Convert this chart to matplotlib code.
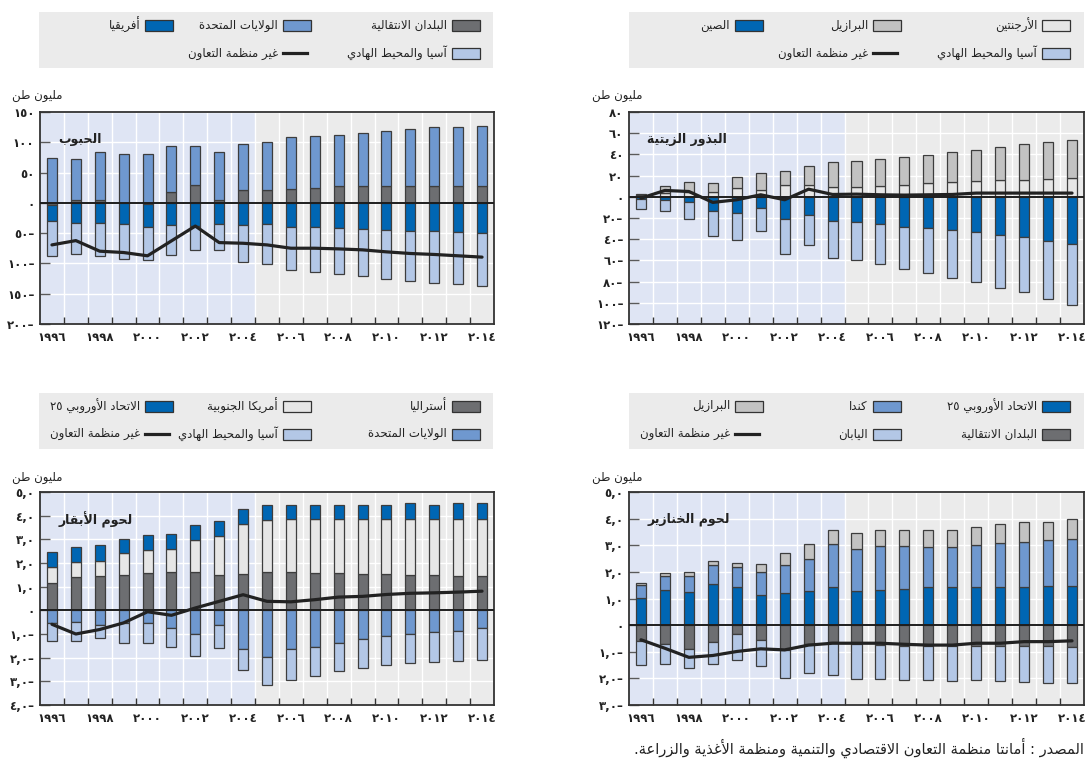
import re
import numpy as np
import matplotlib
matplotlib.use("Agg")
import matplotlib.pyplot as plt
from matplotlib.patches import Rectangle
from matplotlib.lines import Line2D

years = np.arange(1996, 2015)

# ---- grains (million t) ----
grain_transition = [-3, 4, 4, -1, -2, 17.5, 30.1, 5.5, 21.3, 21.3, 23, 24.6, 27.9, 27.9, 27.9, 27.9, 27.9, 27.9, 27.9]
grain_us = [73.8, 68.1, 79.6, 81.4, 81.4, 76.5, 63.9, 78.7, 76.5, 79.8, 85.2, 85.8, 84.7, 87.9, 91.2, 93.4, 96.7, 96.7, 98.9]
grain_africa = [-27, -33.9, -33.9, -34.5, -37.3, -37.2, -38.3, -35.5, -37.2, -35.5, -39.3, -39.3, -41, -42.6, -44.8, -46.4, -46.4, -48.1, -50.3]
grain_asia = [-58.5, -51.3, -53.5, -56.8, -55.2, -49.7, -39.3, -42.1, -60.6, -65.6, -71.1, -74.9, -76.5, -78.7, -80.3, -82.6, -85.3, -85.8, -87.4]
grain_nonoecd = [-69.4, -62.3, -79.8, -82, -87.4, -62.8, -38.3, -65.6, -66.7, -69.4, -74.9, -74.9, -76, -77.6, -80.9, -83.6, -85.2, -87.4, -89.6]

# ---- oilseeds ----
oil_argentina = [2, 4, 4.1, 4.4, 8.2, 6.3, 10.7, 10.7, 9.4, 9.4, 10.4, 11.6, 12.6, 13.8, 14.8, 15.7, 15.7, 16.6, 17.6]
oil_brazil = [0.8, 6.4, 9.4, 8.2, 10.3, 15.7, 14.1, 18.2, 23.9, 24.8, 25.1, 25.8, 27, 28, 29.8, 31.1, 34.5, 35.2, 36.4]
oil_china = [-2.2, -3.1, -5.3, -13.8, -15.7, -10.7, -21, -17, -23.2, -24.2, -26.1, -28.3, -29.2, -31.4, -33.3, -36.4, -38.3, -42.1, -44.3]
oil_asia = [-9.4, -10.7, -15.7, -22.9, -25.1, -22, -32.7, -28.8, -34.6, -35.5, -37.6, -39.8, -43, -44.9, -47.4, -49.6, -51.8, -54.3, -57.4]
oil_nonoecd = [-1.3, 6, 5, -5.3, -2.8, 1.9, -2.8, 7.2, 2.2, 2.5, 1.9, 1.6, 1.9, 2.2, 3.5, 3.5, 3.5, 3.5, 3.5]

# ---- beef ----
beef_australia = [1.14, 1.39, 1.43, 1.49, 1.58, 1.63, 1.63, 1.49, 1.53, 1.63, 1.63, 1.58, 1.58, 1.53, 1.53, 1.49, 1.49, 1.43, 1.43]
beef_samerica = [0.71, 0.64, 0.65, 0.92, 0.96, 0.95, 1.33, 1.67, 2.13, 2.17, 2.21, 2.26, 2.26, 2.31, 2.31, 2.35, 2.35, 2.41, 2.41]
beef_eu = [0.60, 0.66, 0.67, 0.61, 0.63, 0.63, 0.63, 0.60, 0.62, 0.65, 0.63, 0.63, 0.63, 0.63, 0.63, 0.68, 0.63, 0.68, 0.68]
beef_us = [-0.53, -0.49, -0.62, -0.53, -0.53, -0.76, -1.0, -0.62, -1.65, -1.98, -1.65, -1.56, -1.37, -1.23, -1.09, -1.0, -0.91, -0.86, -0.76]
beef_asia = [-0.76, -0.80, -0.57, -0.84, -0.84, -0.80, -0.92, -0.99, -0.85, -1.18, -1.28, -1.22, -1.21, -1.22, -1.22, -1.22, -1.26, -1.26, -1.32]
beef_nonoecd = [-0.59, -1.0, -0.81, -0.53, -0.06, -0.21, 0.1, 0.38, 0.66, 0.38, 0.36, 0.45, 0.56, 0.59, 0.67, 0.72, 0.74, 0.77, 0.81]

# ---- pork ----
pork_eu = [1.03, 1.33, 1.24, 1.53, 1.42, 1.12, 1.19, 1.28, 1.42, 1.28, 1.33, 1.37, 1.42, 1.42, 1.42, 1.42, 1.42, 1.46, 1.46]
pork_canada = [0.49, 0.53, 0.62, 0.71, 0.77, 0.89, 1.05, 1.21, 1.63, 1.58, 1.63, 1.59, 1.51, 1.51, 1.60, 1.67, 1.72, 1.73, 1.76]
pork_brazil = [0.05, 0.09, 0.15, 0.15, 0.15, 0.28, 0.47, 0.56, 0.51, 0.61, 0.63, 0.63, 0.66, 0.66, 0.66, 0.72, 0.74, 0.69, 0.75]
pork_transition = [-0.58, -0.72, -0.88, -0.63, -0.34, -0.55, -0.93, -0.72, -0.65, -0.72, -0.74, -0.77, -0.80, -0.80, -0.80, -0.80, -0.80, -0.80, -0.84]
pork_japan = [-0.93, -0.74, -0.72, -0.83, -0.97, -1.0, -1.04, -1.08, -1.23, -1.29, -1.27, -1.29, -1.26, -1.30, -1.26, -1.30, -1.35, -1.37, -1.33]
pork_nonoecd = [-0.55, -0.87, -1.21, -1.14, -0.99, -0.89, -0.93, -0.75, -0.68, -0.68, -0.68, -0.72, -0.75, -0.75, -0.68, -0.68, -0.62, -0.62, -0.59]

DARKBLUE = '#0066b3'
MIDBLUE = '#6f98cf'
LIGHTBLUE = '#b3c7e6'
DARKGRAY = '#6d6e71'
GRAY = '#c2c2c2'
PALE = '#e6e6e6'

# --- crude Arabic shaping (matplotlib has no complex text layout) ---
TWO = {'آ': 0xFE81, 'أ': 0xFE83, 'ؤ': 0xFE85, 'إ': 0xFE87, 'ا': 0xFE8D, 'ة': 0xFE93,
       'د': 0xFEA9, 'ذ': 0xFEAB, 'ر': 0xFEAD, 'ز': 0xFEAF, 'و': 0xFEED, 'ى': 0xFEEF}
FOUR = {'ئ': 0xFE89, 'ب': 0xFE8F, 'ت': 0xFE95, 'ث': 0xFE99, 'ج': 0xFE9D, 'ح': 0xFEA1,
        'خ': 0xFEA5, 'س': 0xFEB1, 'ش': 0xFEB5, 'ص': 0xFEB9, 'ض': 0xFEBD, 'ط': 0xFEC1,
        'ظ': 0xFEC5, 'ع': 0xFEC9, 'غ': 0xFECD, 'ف': 0xFED1, 'ق': 0xFED5, 'ك': 0xFED9,
        'ل': 0xFEDD, 'م': 0xFEE1, 'ن': 0xFEE5, 'ه': 0xFEE9, 'ي': 0xFEF1}
LAMALEF = {'آ': 0xFEF5, 'أ': 0xFEF7, 'إ': 0xFEF9, 'ا': 0xFEFB}


def ar(text):
    units = []
    i = 0
    while i < len(text):
        c = text[i]
        if c == 'ل' and i + 1 < len(text) and text[i + 1] in LAMALEF:
            units.append((LAMALEF[text[i + 1]], 2))
            i += 2
            continue
        if c in FOUR:
            units.append((FOUR[c], 4))
        elif c in TWO:
            units.append((TWO[c], 2))
        else:
            units.append(c)
        i += 1
    out = []
    for k, u in enumerate(units):
        if isinstance(u, str):
            out.append(u)
            continue
        base, n = u
        prev = units[k - 1] if k > 0 else None
        nxt = units[k + 1] if k + 1 < len(units) else None
        jp = isinstance(prev, tuple) and prev[1] == 4
        jn = n == 4 and isinstance(nxt, tuple)
        off = 3 if (jp and jn) else 1 if jp else 2 if jn else 0
        out.append(chr(base + off))
    vis = ''.join(out)[::-1]
    return re.sub(r'[0-9٠-٩]+', lambda m: m.group(0)[::-1], vis)


DIG = str.maketrans('0123456789', '٠١٢٣٤٥٦٧٨٩')


def num(v):
    return str(v).translate(DIG)


def ylabels(ticks, dec=False):
    labs = []
    for t in ticks:
        s = num(abs(int(t)))
        if dec and t != 0:
            s = s + ',٠'
        if t < 0:
            s = s + '–'
        labs.append(s)
    return labs


plt.rcParams['font.family'] = ['DejaVu Sans']
fig = plt.figure(figsize=(10.86, 7.6), dpi=100)
W, H = 1086, 760


def fig_rect(x0, y0, x1, y1):
    return [x0 / W, 1 - y1 / H, (x1 - x0) / W, (y1 - y0) / H]


def panel(rect, title, series, colors, line, ylim, yticks, dec):
    ax = fig.add_axes(fig_rect(*rect))
    ax.set_facecolor('#ebebeb')
    ax.axvspan(1995.5, 2004.5, color='#dfe5f4', lw=0, zorder=0)
    ax.set_axisbelow(True)
    pos = np.zeros(len(years))
    neg = np.zeros(len(years))
    for vals, c in zip(series, colors):
        v = np.asarray(vals, float)
        base = np.where(v >= 0, pos, neg)
        ax.bar(years, v, bottom=base, width=0.42, color=c, edgecolor='#3d3d3d',
               linewidth=0.9, zorder=3)
        pos += np.clip(v, 0, None)
        neg += np.clip(v, None, 0)
    ax.axhline(0, color='#1e1e1e', lw=1.4, zorder=4)
    ax.plot(years, line, color='#222222', lw=2.3, zorder=5,
            solid_joinstyle='round', solid_capstyle='round')
    ax.set_xlim(1995.5, 2014.5)
    ax.set_ylim(*ylim)
    ax.set_xticks(years[::2], [num(y) for y in years[::2]])
    ax.set_xticks(np.arange(1996.5, 2014.5, 1), minor=True)
    ax.tick_params(axis='x', which='major', length=0, pad=5, labelsize=8.5)
    ax.tick_params(axis='x', which='minor', direction='in', length=5,
                   color='#333333', width=1)
    ax.set_yticks(yticks, ylabels(yticks, dec))
    ax.tick_params(axis='y', direction='in', length=7, color='#5a5a5a',
                   width=1, pad=4, labelsize=8.5)
    for lab in ax.get_xticklabels() + ax.get_yticklabels():
        lab.set_fontweight('bold')
        lab.set_color('#222222')
    ax.grid(True, axis='x', which='minor', color='white', lw=1)
    ax.grid(True, axis='y', which='major', color='white', lw=1)
    for s in ax.spines.values():
        s.set_color('#333333')
        s.set_linewidth(1.3)
    ax.text(0.04, 0.87, ar(title), transform=ax.transAxes, ha='left', va='center',
            fontsize=9, fontweight='bold', color='#222222', zorder=6)
    return ax


def legend_box(rect, rows):
    lx = fig.add_axes(fig_rect(*rect))
    w = rect[2] - rect[0]
    h = rect[3] - rect[1]
    lx.set_xlim(0, w)
    lx.set_ylim(h, 0)
    lx.set_facecolor('#ebebeb')
    lx.set_xticks([])
    lx.set_yticks([])
    for s in lx.spines.values():
        s.set_visible(False)
    col_right = [441, 272, 134]
    row_y = [13, 41]
    for r, row in enumerate(rows):
        for c, (label, kind, color) in enumerate(row):
            xr = col_right[c]
            y = row_y[r]
            if kind == 'box':
                lx.add_patch(Rectangle((xr - 28, y - 5.5), 28, 11, facecolor=color,
                                       edgecolor='#333333', lw=0.9))
            else:
                lx.add_line(Line2D([xr - 28, xr - 4], [y, y], color='#222222', lw=2.3))
            lx.text(xr - 33, y, ar(label), ha='right', va='center', fontsize=8.5,
                    color='#222222')


# grains (top-left)
panel((40, 112, 494, 324), 'الحبوب',
      [grain_transition, grain_us, grain_africa, grain_asia],
      [DARKGRAY, MIDBLUE, DARKBLUE, LIGHTBLUE], grain_nonoecd,
      (-200, 150), np.arange(-200, 151, 50), False)
legend_box((39, 12, 493, 68), [
    [('البلدان الانتقالية', 'box', DARKGRAY), ('الولايات المتحدة', 'box', MIDBLUE), ('أفريقيا', 'box', DARKBLUE)],
    [('آسيا والمحيط الهادي', 'box', LIGHTBLUE), ('غير منظمة التعاون', 'line', None)],
])

# oilseeds (top-right)
panel((629, 112, 1084, 324), 'البذور الزيتية',
      [oil_argentina, oil_brazil, oil_china, oil_asia],
      [PALE, GRAY, DARKBLUE, LIGHTBLUE], oil_nonoecd,
      (-120, 80), np.arange(-120, 81, 20), False)
legend_box((629, 12, 1084, 68), [
    [('الأرجنتين', 'box', PALE), ('البرازيل', 'box', GRAY), ('الصين', 'box', DARKBLUE)],
    [('آسيا والمحيط الهادي', 'box', LIGHTBLUE), ('غير منظمة التعاون', 'line', None)],
])

# beef (bottom-left)
panel((40, 492, 494, 705), 'لحوم الأبقار',
      [beef_australia, beef_samerica, beef_eu, beef_us, beef_asia],
      [DARKGRAY, PALE, DARKBLUE, MIDBLUE, LIGHTBLUE], beef_nonoecd,
      (-4, 5), np.arange(-4, 6, 1), True)
legend_box((39, 393, 493, 449), [
    [('أستراليا', 'box', DARKGRAY), ('أمريكا الجنوبية', 'box', PALE), ('الاتحاد الأوروبي ٢٥', 'box', DARKBLUE)],
    [('الولايات المتحدة', 'box', MIDBLUE), ('آسيا والمحيط الهادي', 'box', LIGHTBLUE), ('غير منظمة التعاون', 'line', None)],
])

# pork (bottom-right)
panel((629, 492, 1084, 705), 'لحوم الخنازير',
      [pork_eu, pork_canada, pork_brazil, pork_transition, pork_japan],
      [DARKBLUE, MIDBLUE, GRAY, DARKGRAY, LIGHTBLUE], pork_nonoecd,
      (-3, 5), np.arange(-3, 6, 1), True)
legend_box((629, 393, 1084, 449), [
    [('الاتحاد الأوروبي ٢٥', 'box', DARKBLUE), ('كندا', 'box', MIDBLUE), ('البرازيل', 'box', GRAY)],
    [('البلدان الانتقالية', 'box', DARKGRAY), ('اليابان', 'box', LIGHTBLUE), ('غير منظمة التعاون', 'line', None)],
])

unit = ar('مليون طن')
fig.text(63 / W, 1 - 95 / H, unit, ha='right', va='center', fontsize=8.5, color='#222222')
fig.text(643 / W, 1 - 95 / H, unit, ha='right', va='center', fontsize=8.5, color='#222222')
fig.text(63 / W, 1 - 477 / H, unit, ha='right', va='center', fontsize=8.5, color='#222222')
fig.text(643 / W, 1 - 477 / H, unit, ha='right', va='center', fontsize=8.5, color='#222222')

fig.text(1084 / W, 1 - 748 / H,
         ar('المصدر : أمانتا منظمة التعاون الاقتصادي والتنمية ومنظمة الأغذية والزراعة.'),
         ha='right', va='center', fontsize=10.5, color='#222222')

fig.savefig('out.png', dpi=100)
